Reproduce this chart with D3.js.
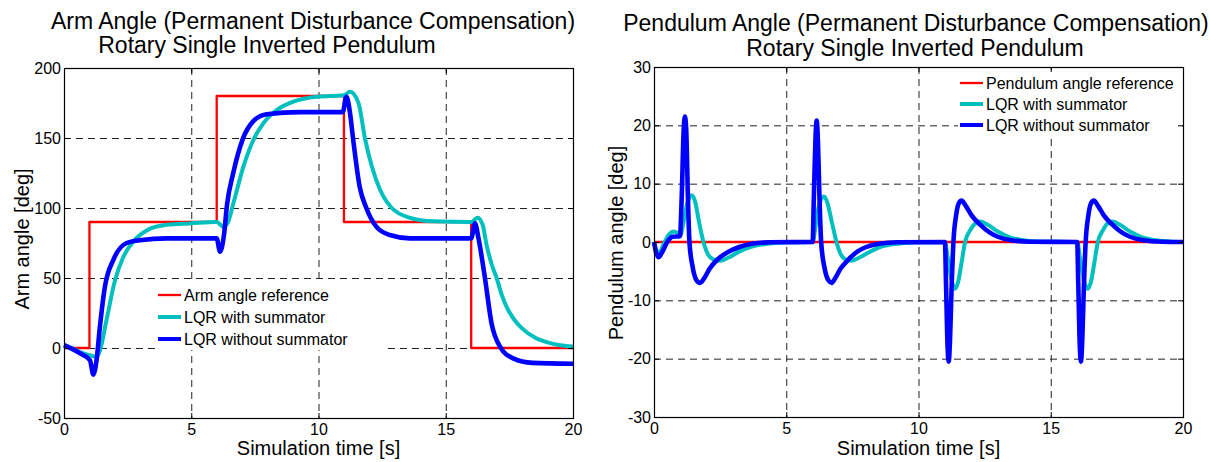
<!DOCTYPE html>
<html>
<head>
<meta charset="utf-8">
<script src="https://cdn.jsdelivr.net/npm/d3@7"></script>
<style>
  body { margin: 0; background: #fff; }
  svg { display: block; font-family: "Liberation Sans", Arial, Helvetica, sans-serif; }
</style>
</head>
<body>
<div id="chart"></div>
<script>
// tick values
const timeTicks = [0, 5, 10, 15, 20]
const armTicks = [-50, 0, 50, 100, 150, 200]
const pendTicks = [-30, -20, -10, 0, 10, 20, 30]

// arm angle [deg] vs time [s]
const armRef = [[0, 0], [1, 90], [6, 180], [11, 90], [16, 0], [20, 0]]
const armWith = [[0, 2], [0.3, 0], [0.63, -3], [1.02, -5.2], [1.28, -6.4], [1.41, -2], [1.67, 20], [2.0, 48], [2.33, 65], [2.72, 76], [3.25, 84], [4.03, 88], [4.95, 89], [6.0, 90],
  [6.26, 86.7], [6.42, 89], [6.65, 103], [7.04, 129], [7.44, 148.6], [7.83, 160.5], [8.36, 170], [9.01, 176], [9.93, 179.5], [11.0, 180.5],
  [11.24, 183], [11.57, 175], [11.83, 149.3], [12.1, 129.5], [12.42, 113], [12.88, 100], [13.6, 93], [14.5, 90.5], [16.0, 90],
  [16.25, 93], [16.45, 88], [16.6, 74], [16.8, 60], [17.0, 50], [17.2, 38], [17.4, 29], [17.7, 20], [18.0, 14], [18.5, 7.5], [19.0, 4], [19.5, 2], [20, 1]]
const armWithout = [[0, 2], [0.63, -3.8], [1.02, -8.6], [1.15, -19], [1.28, -8.6], [1.41, 15], [1.61, 44], [1.94, 63], [2.46, 75], [2.98, 77], [4.03, 78.3], [6.0, 78.3],
  [6.13, 68.8], [6.28, 80], [6.41, 103], [6.65, 125], [7.02, 149], [7.44, 162], [7.96, 167], [9.27, 168.5], [10.95, 168.5],
  [11.1, 179.5], [11.24, 167.6], [11.36, 149.3], [11.62, 115], [11.88, 100], [12.27, 86.7], [12.8, 80.7], [13.6, 78.3], [16.0, 78.3],
  [16.15, 89], [16.28, 79], [16.54, 50], [16.8, 17.6], [17.13, 1], [17.65, -7.4], [18.4, -10.6], [20, -11.2]]

// pendulum angle [deg] vs time [s]
const pendRef = [[0, 0], [20, 0]]
const pendWith = [[0, 0], [0.1, -1.5], [0.2, -1.8], [0.35, -0.5], [0.55, 1.2], [0.75, 1.8], [0.9, 1.5], [1.0, 1.2], [1.1, 3], [1.25, 6.5], [1.42, 8], [1.55, 7], [1.7, 3.5], [1.87, 0],
  [2.05, -2.2], [2.25, -3], [2.5, -3.2], [2.8, -2.7], [3.2, -1.7], [3.7, -0.8], [4.3, -0.3], [5, -0.05], [6, 0],
  [6.1, 2.5], [6.25, 6.5], [6.43, 7.8], [6.55, 6.8], [6.72, 3.5], [6.9, 0], [7.05, -2], [7.25, -3], [7.45, -3.2], [7.75, -2.7], [8.15, -1.7], [8.6, -0.8], [9.2, -0.3], [10, -0.05], [11, 0],
  [11.1, -2.5], [11.25, -6.5], [11.38, -8], [11.5, -6.8], [11.63, -3.5], [11.76, 0], [11.95, 2], [12.15, 3.2], [12.33, 3.5], [12.6, 3], [13.0, 1.8], [13.4, 0.9], [13.9, 0.35], [14.5, 0.1], [16, 0],
  [16.1, -2.5], [16.25, -6.5], [16.4, -8], [16.52, -6.8], [16.65, -3.5], [16.78, 0], [16.97, 2], [17.15, 3.2], [17.33, 3.5], [17.6, 3], [18.0, 1.8], [18.4, 0.9], [18.9, 0.35], [19.5, 0.1], [20, 0]]
const pendWithout = [[0, 0], [0.08, -1.8], [0.17, -2.6], [0.3, -1.8], [0.5, 0], [0.7, 0.9], [0.98, 1.0], [1.05, 8], [1.12, 19], [1.17, 21.5], [1.22, 19], [1.28, 8], [1.34, 0],
  [1.45, -4], [1.6, -6.5], [1.74, -7], [1.9, -6.2], [2.1, -4.6], [2.4, -3], [2.8, -1.7], [3.2, -0.9], [3.7, -0.3], [4.4, -0.05], [6, 0],
  [6.04, 7], [6.1, 17], [6.15, 20.8], [6.2, 17], [6.26, 7], [6.32, 0], [6.45, -4.5], [6.6, -6.6], [6.72, -7], [6.85, -6.2], [7.05, -4.6], [7.35, -3], [7.7, -1.6], [8.0, -0.9], [8.5, -0.3], [9.2, -0.05], [11, 0],
  [11.04, -7], [11.1, -18], [11.14, -20.5], [11.19, -17], [11.25, -8], [11.32, 0], [11.42, 4.5], [11.52, 6.6], [11.63, 7.1], [11.8, 6.1], [12.0, 4.6], [12.35, 2.9], [12.7, 1.6], [13.0, 0.9], [13.5, 0.3], [14.2, 0.05], [16, 0],
  [16.04, -7], [16.1, -18], [16.14, -20.5], [16.19, -17], [16.25, -8], [16.32, 0], [16.42, 4.5], [16.52, 6.6], [16.63, 7.1], [16.8, 6.1], [17.0, 4.6], [17.35, 2.9], [17.7, 1.6], [18.0, 0.9], [18.5, 0.3], [19.2, 0.05], [20, 0]]

const width = 1210, height = 462
const colors = ["#ff0000", "#00bfbf", "#0000ff"]
const widths = [2.3, 4, 4.6]

const svg = d3.select("#chart")
  .append("svg")
  .attr("width", width)
  .attr("height", height)
  .attr("viewBox", [0, 0, width, height])

svg.append("rect").attr("width", width).attr("height", height).attr("fill", "#fff")

// plain hyphen minus, like the original figure
const fmt = d => String(d)

const drawPanel = (cfg) => {
  const x = d3.scaleLinear().domain([0, 20]).range([cfg.left, cfg.right])
  const y = d3.scaleLinear().domain(d3.extent(cfg.yTicks)).range([cfg.bottom, cfg.top])
  const g = svg.append("g")

  // dashed grid
  g.append("g")
    .attr("stroke", "#222")
    .attr("stroke-width", 1)
    .attr("stroke-dasharray", "7,5")
    .call(g => g.selectAll(".vx")
      .data(timeTicks.slice(1, -1))
      .join("line")
      .attr("x1", d => x(d) + 0.5).attr("x2", d => x(d) + 0.5)
      .attr("y1", cfg.top).attr("y2", cfg.bottom))
    .call(g => g.selectAll(".hy")
      .data(cfg.yTicks.slice(1, -1))
      .join("line")
      .attr("y1", d => y(d) + 0.5).attr("y2", d => y(d) + 0.5)
      .attr("x1", cfg.left).attr("x2", cfg.right))

  // legend background (hides grid)
  g.append("rect")
    .attr("x", cfg.legend.x0).attr("y", cfg.legend.y0)
    .attr("width", cfg.legend.x1 - cfg.legend.x0)
    .attr("height", cfg.legend.y1 - cfg.legend.y0)
    .attr("fill", "#fff")

  // curves
  const line = d3.line().x(d => x(d[0])).y(d => y(d[1])).curve(d3.curveMonotoneX)
  const stepLine = d3.line().x(d => x(d[0])).y(d => y(d[1])).curve(d3.curveStepAfter)
  cfg.series.forEach((s, i) => {
    g.append("path")
      .datum(s)
      .attr("fill", "none")
      .attr("stroke", colors[i])
      .attr("stroke-width", widths[i])
      .attr("stroke-linejoin", "round")
      .attr("d", i === 0 ? stepLine : line)
  })

  // axes with inward ticks
  g.append("g")
    .attr("transform", `translate(0,${cfg.bottom})`)
    .call(d3.axisBottom(x).tickValues(timeTicks).tickFormat(fmt).tickSize(-5).tickSizeOuter(0).tickPadding(6))
  g.append("g")
    .attr("transform", `translate(0,${cfg.top})`)
    .call(d3.axisTop(x).tickValues(timeTicks).tickSize(-5).tickSizeOuter(0).tickFormat(""))
  g.append("g")
    .attr("transform", `translate(${cfg.left},0)`)
    .call(d3.axisLeft(y).tickValues(cfg.yTicks).tickFormat(fmt).tickSize(-5).tickSizeOuter(0).tickPadding(3))
  g.append("g")
    .attr("transform", `translate(${cfg.right},0)`)
    .call(d3.axisRight(y).tickValues(cfg.yTicks).tickSize(-5).tickSizeOuter(0).tickFormat(""))

  g.selectAll(".tick text").attr("font-size", 16).attr("fill", "#000").attr("font-family", "Liberation Sans, Arial, sans-serif")
  g.selectAll(".domain").remove()
  g.selectAll(".tick line").attr("stroke", "#000")

  g.append("rect")
    .attr("x", cfg.left + 0.5).attr("y", cfg.top + 0.5)
    .attr("width", cfg.right - cfg.left).attr("height", cfg.bottom - cfg.top)
    .attr("fill", "none").attr("stroke", "#000").attr("stroke-width", 1.2)

  // legend
  const lg = g.append("g").attr("font-size", 16)
  cfg.labels.forEach((label, i) => {
    const ly = cfg.legend.rowY + i * cfg.legend.gap
    lg.append("line")
      .attr("x1", cfg.legend.lineX).attr("x2", cfg.legend.lineX + 23)
      .attr("y1", ly).attr("y2", ly)
      .attr("stroke", colors[i])
      .attr("stroke-width", i === 0 ? 2.3 : 4)
    lg.append("text")
      .attr("x", cfg.legend.lineX + 26).attr("y", ly)
      .attr("dy", "0.35em")
      .text(label)
  })

  // titles and labels
  cfg.title.forEach(t => {
    g.append("text")
      .attr("x", t.x).attr("y", t.y)
      .attr("text-anchor", "middle")
      .attr("font-size", 23)
      .text(t.text)
  })
  g.append("text")
    .attr("x", (cfg.left + cfg.right) / 2).attr("y", 455)
    .attr("text-anchor", "middle")
    .attr("font-size", 20)
    .text("Simulation time [s]")
  g.append("text")
    .attr("transform", `translate(${cfg.ylabelX},${cfg.ylabelY}) rotate(-90)`)
    .attr("text-anchor", "middle")
    .attr("font-size", 20)
    .text(cfg.ylabel)
}

drawPanel({
  left: 64, right: 573, top: 68, bottom: 418,
  yTicks: armTicks,
  series: [armRef, armWith, armWithout],
  labels: ["Arm angle reference", "LQR with summator", "LQR without summator"],
  legend: { x0: 158, x1: 387, y0: 284, y1: 350, lineX: 158, rowY: 295, gap: 22 },
  title: [
    { text: "Arm Angle (Permanent Disturbance Compensation)", x: 313, y: 29 },
    { text: "Rotary Single Inverted Pendulum", x: 267, y: 53 }
  ],
  ylabel: "Arm angle [deg]", ylabelX: 29, ylabelY: 239
})

drawPanel({
  left: 654, right: 1183, top: 67, bottom: 417,
  yTicks: pendTicks,
  series: [pendRef, pendWith, pendWithout],
  labels: ["Pendulum angle reference", "LQR with summator", "LQR without summator"],
  legend: { x0: 958, x1: 1180, y0: 70, y1: 137, lineX: 960, rowY: 83, gap: 21 },
  title: [
    { text: "Pendulum Angle (Permanent Disturbance Compensation)", x: 916, y: 31 },
    { text: "Rotary Single Inverted Pendulum", x: 915, y: 56 }
  ],
  ylabel: "Pendulum angle [deg]", ylabelX: 623, ylabelY: 243
})
</script>
</body>
</html>
